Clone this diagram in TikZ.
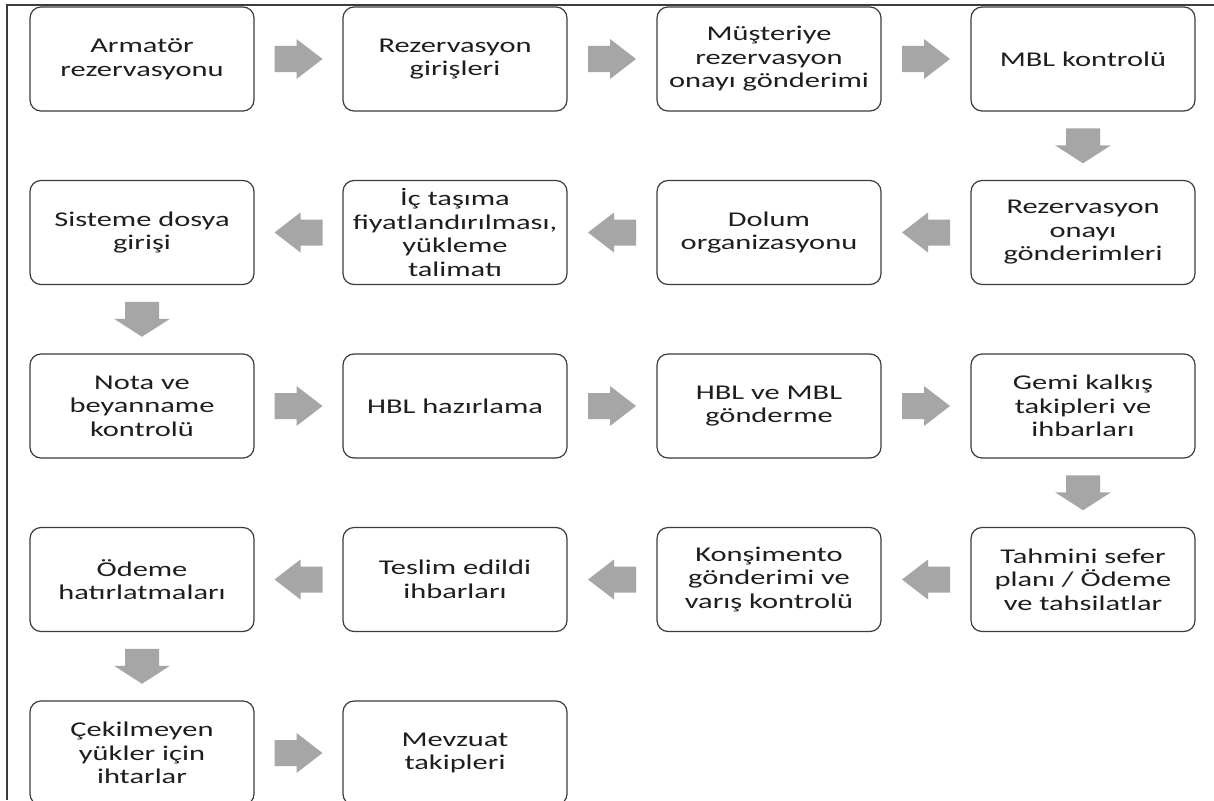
\documentclass[tikz,border=0pt]{standalone}
\usepackage{fontspec}
\setmainfont{Carlito}[FakeStretch=1.45]
\usetikzlibrary{calc}
\definecolor{arrowgray}{HTML}{A6A6A6}
\definecolor{boxline}{HTML}{3C3C3C}
\definecolor{txt}{HTML}{1E1E1E}
\tikzset{
  stepbox/.style={draw=boxline, line width=1.2pt, rounded corners=11pt, fill=white,
    minimum width=224pt, minimum height=104pt, inner sep=2pt, align=center,
    text=txt, font=\fontsize{21}{23.5}\selectfont},
  rarrow/.pic={\fill[arrowgray] (-24,-13) -- (-2,-13) -- (-2,-20) -- (24,0) -- (-2,20) -- (-2,13) -- (-24,13) -- cycle;},
  larrow/.pic={\fill[arrowgray] (24,-13) -- (2,-13) -- (2,-20) -- (-24,0) -- (2,20) -- (2,13) -- (24,13) -- cycle;},
  darrow/.pic={\fill[arrowgray] (-17,-17.5) -- (17,-17.5) -- (17,-0.5) -- (28,-0.5) -- (0,17.5) -- (-28,-0.5) -- (-17,-0.5) -- cycle;},
}
\begin{document}
\begin{tikzpicture}[x=1pt,y=-1pt]
\useasboundingbox (0,0) rectangle (1214,800);
\fill[white] (0,0) rectangle (1214,800);
\draw[boxline, line width=1.3pt] (7,800) -- (7,5) -- (1214,5);
% row 1
\node[stepbox] (a1) at (142,59) {Armatör\\rezervasyonu};
\node[stepbox] (a2) at (455,59) {Rezervasyon\\girişleri};
\node[stepbox] (a3) at (769,59) {Müşteriye\\rezervasyon\\onayı gönderimi};
\node[stepbox] (a4) at (1083,59) {MBL kontrolü};
% row 2
\node[stepbox] (b4) at (1083,232.5) {Rezervasyon\\onayı\\gönderimleri};
\node[stepbox] (b3) at (769,232.5) {Dolum\\organizasyonu};
\node[stepbox] (b2) at (455,232.5) {İç taşıma\\fiyatlandırılması,\\yükleme\\talimatı};
\node[stepbox] (b1) at (142,232.5) {Sisteme dosya\\girişi};
% row 3
\node[stepbox] (c1) at (142,406) {Nota ve\\beyanname\\kontrolü};
\node[stepbox] (c2) at (455,406) {HBL hazırlama};
\node[stepbox] (c3) at (769,406) {HBL ve MBL\\gönderme};
\node[stepbox] (c4) at (1083,406) {Gemi kalkış\\takipleri ve\\ihbarları};
% row 4
\node[stepbox] (d4) at (1083,579.5) {Tahmini sefer\\planı / Ödeme\\ve tahsilatlar};
\node[stepbox] (d3) at (769,579.5) {Konşimento\\gönderimi ve\\varış kontrolü};
\node[stepbox] (d2) at (455,579.5) {Teslim edildi\\ihbarları};
\node[stepbox] (d1) at (142,579.5) {Ödeme\\hatırlatmaları};
% row 5
\node[stepbox] (e1) at (142,753) {Çekilmeyen\\yükler için\\ihtarlar};
\node[stepbox] (e2) at (455,753) {Mevzuat\\takipleri};
% arrows
\path ($(a1.east)!0.5!(a2.west)$) pic {rarrow};
\path ($(a2.east)!0.5!(a3.west)$) pic {rarrow};
\path ($(a3.east)!0.5!(a4.west)$) pic {rarrow};
\path ($(a4.south)!0.5!(b4.north)$) pic {darrow};
\path ($(b4.west)!0.5!(b3.east)$) pic {larrow};
\path ($(b3.west)!0.5!(b2.east)$) pic {larrow};
\path ($(b2.west)!0.5!(b1.east)$) pic {larrow};
\path ($(b1.south)!0.5!(c1.north)$) pic {darrow};
\path ($(c1.east)!0.5!(c2.west)$) pic {rarrow};
\path ($(c2.east)!0.5!(c3.west)$) pic {rarrow};
\path ($(c3.east)!0.5!(c4.west)$) pic {rarrow};
\path ($(c4.south)!0.5!(d4.north)$) pic {darrow};
\path ($(d4.west)!0.5!(d3.east)$) pic {larrow};
\path ($(d3.west)!0.5!(d2.east)$) pic {larrow};
\path ($(d2.west)!0.5!(d1.east)$) pic {larrow};
\path ($(d1.south)!0.5!(e1.north)$) pic {darrow};
\path ($(e1.east)!0.5!(e2.west)$) pic {rarrow};
\end{tikzpicture}
\end{document}
